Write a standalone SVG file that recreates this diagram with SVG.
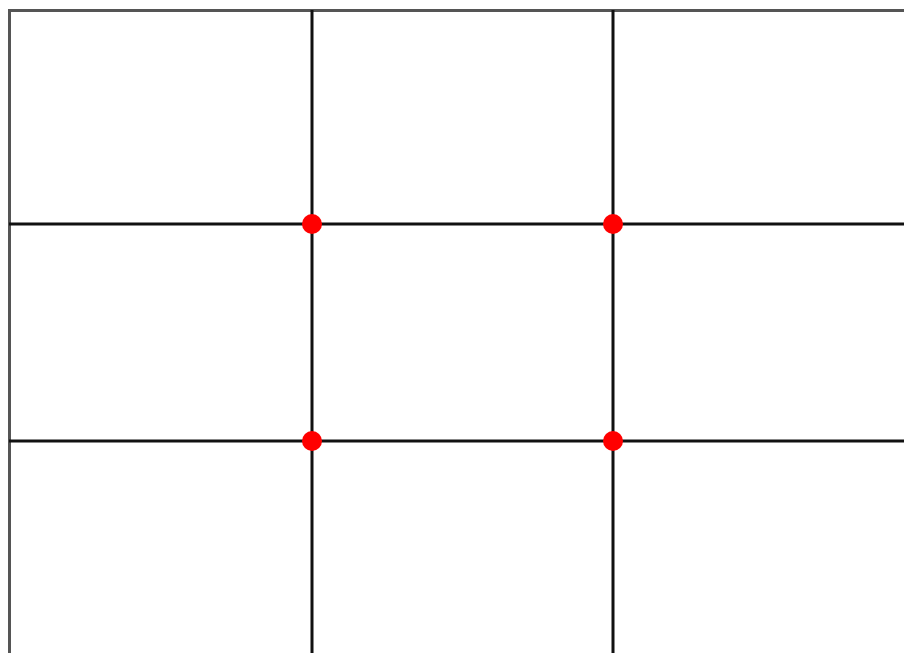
<svg xmlns="http://www.w3.org/2000/svg" width="904" height="653" viewBox="0 0 904 653">
<style>
.border{stroke:#555;stroke-width:3;fill:none}
.grid{stroke:#111;stroke-width:3;fill:none}
.dot{fill:#f00}
</style>
<rect width="904" height="653" fill="#fff"/>
<g id="frame">
<path class="border" d="M9.5,653 V10.5 H904"/>
</g>
<g id="connectors">
<line class="grid" x1="312" y1="10" x2="312" y2="653"/>
<line class="grid" x1="613" y1="10" x2="613" y2="653"/>
<line class="grid" x1="9" y1="224" x2="904" y2="224"/>
<line class="grid" x1="9" y1="441" x2="904" y2="441"/>
</g>
<g id="p1"><circle class="dot" cx="312" cy="224" r="10"/></g>
<g id="p2"><circle class="dot" cx="613" cy="224" r="10"/></g>
<g id="p3"><circle class="dot" cx="312" cy="441" r="10"/></g>
<g id="p4"><circle class="dot" cx="613" cy="441" r="10"/></g>
</svg>
